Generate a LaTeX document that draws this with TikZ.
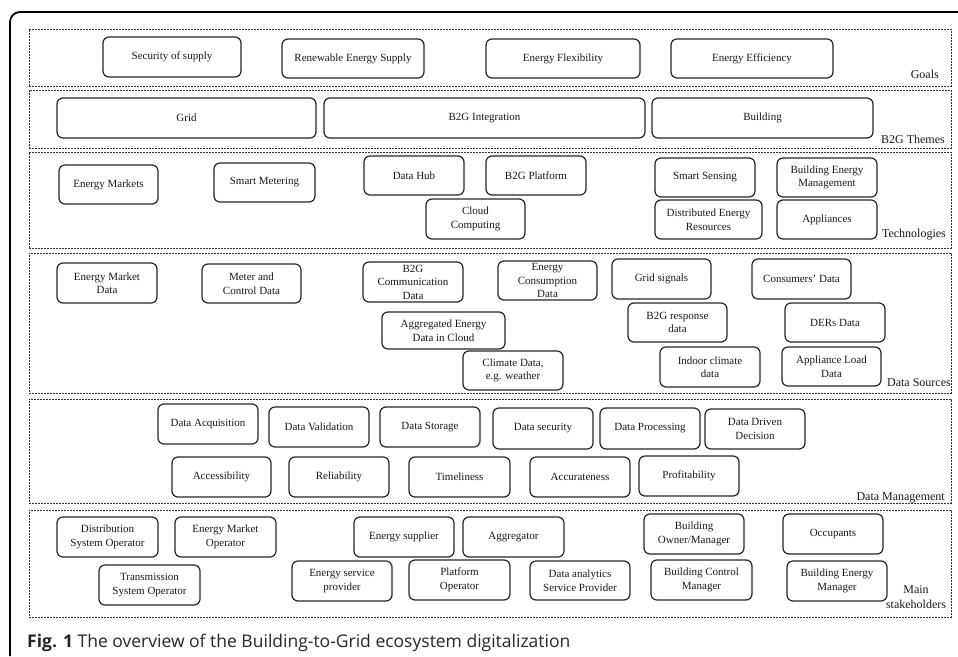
\documentclass[tikz,border=0pt]{standalone}
\usepackage{fontspec}
\setmainfont{Liberation Serif}
\newfontfamily\capfont{Open Sans}
\begin{document}
\begin{tikzpicture}[x=1pt,y=-1pt,
  box/.style={draw=black!85, line width=1.2pt, rounded corners=6pt, inner sep=0pt,
    align=center, text=black!90, font=\fontsize{11}{13.5}\selectfont},
  band/.style={draw=black!80, line width=1pt, dash pattern=on 2pt off 1pt},
  blabel/.style={inner sep=0pt, text=black!90, font=\fontsize{12}{14}\selectfont},
  frame/.style={line width=1.8pt, rounded corners=10pt}]
\useasboundingbox (0,0) rectangle (958,656);
\newcommand\bx[6]{\node[box, minimum width={#4-#2}, minimum height={#5-#3}] (#1) at ({(#2+#4)/2},{(#3+#5)/2}) {#6};}
% outer frame
\coordinate (fa) at (10,656);
\coordinate (fb) at (10,12);
\coordinate (fc) at (958,12);
\draw[frame] (fa) -- (fb) -- (fc);
% bands
\node[band, inner sep=0pt, minimum width=922, minimum height=57] (goals) at (490,57.5) {};
\node[band, inner sep=0pt, minimum width=922, minimum height=58] (themes) at (490,119) {};
\node[band, inner sep=0pt, minimum width=922, minimum height=96] (tech) at (490,200) {};
\node[band, inner sep=0pt, minimum width=922, minimum height=140] (ds) at (490,323) {};
\node[band, inner sep=0pt, minimum width=922, minimum height=104] (dm) at (490,451) {};
\node[band, inner sep=0pt, minimum width=922, minimum height=107] (ms) at (490,563.5) {};
% band labels
\node[blabel, anchor=east] (lgoals) at (939,74) {Goals};
\node[blabel, anchor=east] (lthemes) at (945,139) {B2G Themes};
\node[blabel, anchor=east] (ltech) at (946,235) {Technologies};
\node[blabel, anchor=east] (lds) at (951,383) {Data Sources};
\node[blabel, anchor=east] (ldm) at (945,498) {Data Management};
\node[blabel, align=center, font=\fontsize{12}{15}\selectfont] (lms) at (916,597) {Main\\stakeholders};
% Goals
\bx{g1}{103}{37}{241}{77}{Security of supply}
\bx{g2}{282}{39}{424}{78}{Renewable Energy Supply}
\bx{g3}{486}{39}{640}{78}{Energy Flexibility}
\bx{g4}{671}{39}{833}{78}{Energy Efficiency}
% Themes
\bx{t1}{57}{98}{316}{138}{Grid}
\bx{t2}{324}{98}{645}{138}{B2G Integration}
\bx{t3}{652}{98}{873}{138}{Building}
% Technologies
\bx{k1}{59}{165}{158}{204}{Energy Markets}
\bx{k2}{214}{163}{315}{202}{Smart Metering}
\bx{k3}{364}{156}{464}{195}{Data Hub}
\bx{k4}{486}{156}{586}{195}{B2G Platform}
\bx{k5}{426}{199}{525}{239}{Cloud\\Computing}
\bx{k6}{655}{158}{755}{197}{Smart Sensing}
\bx{k7}{777}{158}{877}{197}{Building Energy\\Management}
\bx{k8}{655}{200}{762}{239}{Distributed Energy\\Resources}
\bx{k9}{777}{200}{877}{239}{Appliances}
% Data Sources
\bx{s1}{57}{263}{157}{303}{Energy Market\\Data}
\bx{s2}{202}{264}{301}{303}{Meter and\\Control Data}
\bx{s3}{363}{262}{463}{302}{B2G\\Communication\\Data}
\bx{s4}{498}{261}{597}{300}{Energy\\Consumption\\Data}
\bx{s5}{612}{259}{711}{299}{Grid signals}
\bx{s6}{752}{259}{851}{299}{Consumers’ Data}
\bx{s7}{382}{312}{505}{349}{Aggregated Energy\\Data in Cloud}
\bx{s8}{628}{303}{727}{342}{B2G response\\data}
\bx{s9}{785}{303}{885}{342}{DERs Data}
\bx{s10}{463}{351}{563}{390}{Climate Data,\\e.g. weather}
\bx{s11}{660}{347}{760}{387}{Indoor climate\\data}
\bx{s12}{782}{347}{881}{386}{Appliance Load\\Data}
% Data Management
\bx{m1}{158}{404}{258}{444}{Data Acquisition}
\bx{m2}{269}{407}{369}{447}{Data Validation}
\bx{m3}{380}{407}{480}{447}{Data Storage}
\bx{m4}{493}{408}{593}{449}{Data security}
\bx{m5}{600}{408}{700}{449}{Data Processing}
\bx{m6}{705}{409}{805}{449}{Data Driven\\Decision}
\bx{m7}{172}{457}{271}{497}{Accessibility}
\bx{m8}{289}{457}{389}{497}{Reliability}
\bx{m9}{409}{457}{510}{497}{Timeliness}
\bx{m10}{530}{457}{630}{497}{Accurateness}
\bx{m11}{639}{456}{739}{496}{Profitability}
% Main stakeholders
\bx{h1}{57}{517}{158}{557}{Distribution\\System Operator}
\bx{h2}{175}{517}{276}{557}{Energy Market\\Operator}
\bx{h3}{99}{565}{200}{605}{Transmission\\System Operator}
\bx{h4}{354}{517}{454}{557}{Energy supplier}
\bx{h5}{463}{517}{564}{557}{Aggregator}
\bx{h6}{292}{561}{392}{601}{Energy service\\provider}
\bx{h7}{409}{560}{510}{600}{Platform\\Operator}
\bx{h8}{530}{561}{630}{600}{Data analytics\\Service Provider}
\bx{h9}{644}{514}{744}{554}{Building\\Owner/Manager}
\bx{h10}{783}{514}{883}{554}{Occupants}
\bx{h11}{651}{560}{752}{600}{Building Control\\Manager}
\bx{h12}{787}{561}{887}{601}{Building Energy\\Manager}
% caption
\node[anchor=base west, inner sep=0pt, text=black!85, font=\capfont\fontsize{17.5}{20}\selectfont] (cap) at (27,647) {\textbf{Fig. 1} The overview of the Building-to-Grid ecosystem digitalization};
\end{tikzpicture}
\end{document}
